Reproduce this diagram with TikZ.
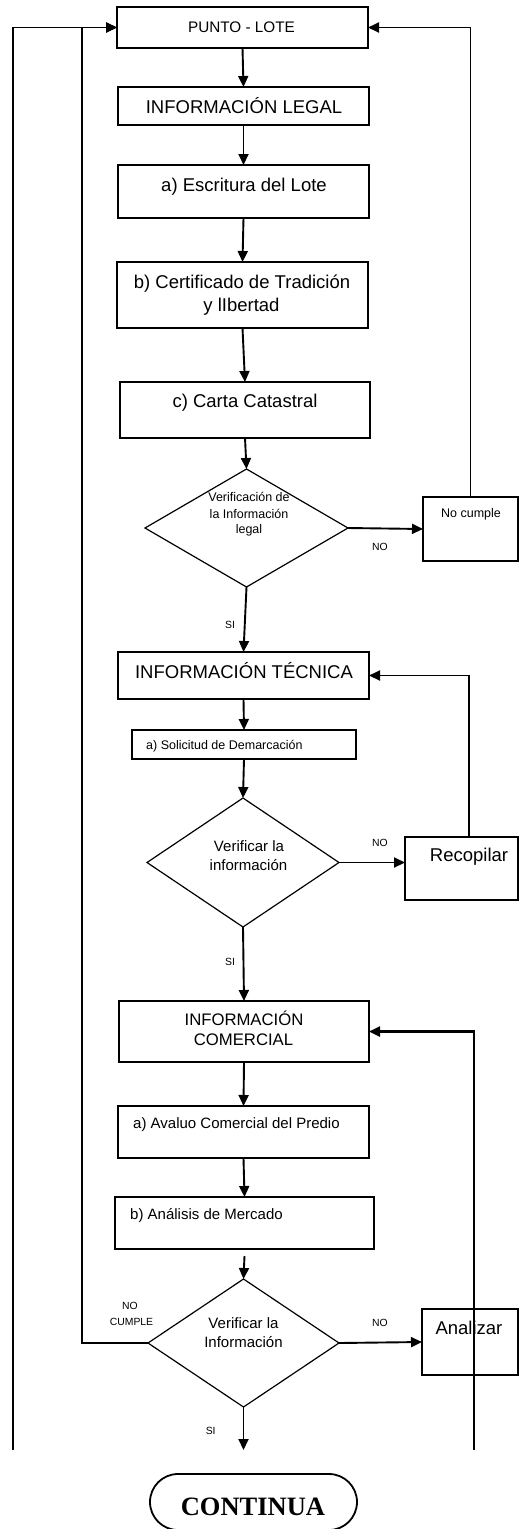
\documentclass[tikz,border=0pt]{standalone}
\usepackage{fontspec}
\setmainfont{Liberation Sans}
\newfontfamily\serifb{Liberation Serif}
\usetikzlibrary{arrows.meta,shapes.geometric,calc}
\tikzset{
  box/.style={draw, rectangle, line width=1.3pt, inner sep=0pt, outer sep=0pt},
  dia/.style={draw, diamond, line width=1.2pt, inner sep=0pt, outer sep=0pt},
  conn/.style={line width=1.9pt, -{Triangle[length=11pt,width=10pt]}},
  tx/.style={inner sep=0pt, anchor=base},
  tbig/.style={tx, font=\fontsize{18.5}{22}\selectfont},
  tcom/.style={tx, font=\fontsize{16.7}{20}\selectfont},
  tmid/.style={tx, font=\fontsize{15}{18}\selectfont},
  tpun/.style={tx, font=\fontsize{15.3}{18}\selectfont},
  tsm/.style={tx, font=\fontsize{12.5}{15}\selectfont},
  tlab/.style={tx, font=\fontsize{10.4}{12}\selectfont},
}
\begin{document}
\begin{tikzpicture}[x=1pt,y=-1pt]
\useasboundingbox (0,0) rectangle (519,1529);
% boxes
\node[box, minimum width=251pt, minimum height=41pt] (punto) at (242.5,27.5) {};
\node[box, minimum width=251pt, minimum height=38pt] (legal) at (243.5,106) {};
\node[box, minimum width=251pt, minimum height=53pt] (escr) at (243.5,191.5) {};
\node[box, minimum width=251pt, minimum height=66pt] (cert) at (242.5,295) {};
\node[box, minimum width=250pt, minimum height=56pt] (carta) at (245,410) {};
\node[dia, minimum width=203pt, minimum height=118pt] (dia1) at (246.5,528) {};
\node[box, minimum width=95pt, minimum height=64pt] (nocum) at (470.5,529) {};
\node[box, minimum width=251pt, minimum height=47pt] (tecn) at (243.5,675.5) {};
\node[box, minimum width=224pt, minimum height=29pt] (solic) at (244,744.5) {};
\node[dia, minimum width=192pt, minimum height=129pt] (dia2) at (243,862.5) {};
\node[box, minimum width=113pt, minimum height=63pt] (recop) at (461.5,868.5) {};
\node[box, minimum width=250pt, minimum height=61pt] (comer) at (244,1031.5) {};
\node[box, minimum width=251pt, minimum height=52pt] (aval) at (243.5,1132) {};
\node[box, minimum width=259pt, minimum height=52pt] (anal) at (244.5,1223) {};
\node[dia, minimum width=191pt, minimum height=128pt] (dia3) at (243.5,1343) {};
\node[box, minimum width=96pt, minimum height=66pt] (anz) at (470,1342) {};
\node[draw, rectangle, rounded corners=28pt, line width=1.8pt, inner sep=0pt, outer sep=0pt,
      minimum width=207pt, minimum height=56pt] (cont) at (253.5,1502) {};
% texts
\node[tpun] (tpunto) at (241.5,32.3) {PUNTO - LOTE};
\node[tbig] (tlegal) at (244,113.3) {INFORMACIÓN LEGAL};
\node[tbig] (tescr) at (244,191) {a) Escritura del Lote};
\node[tbig] (tcert1) at (242,288.3) {b) Certificado de Tradición};
\node[tbig] (tcert2) at (241.5,311) {y lIbertad};
\node[tbig] (tcarta) at (245,407.3) {c) Carta Catastral};
\node[tsm] (td1a) at (249,501) {Verificación de};
\node[tsm] (td1b) at (249,518) {la Información};
\node[tsm] (td1c) at (249,533) {legal};
\node[tlab] (tno1) at (380,550) {NO};
\node[tsm] (tnoc) at (471,517.3) {No cumple};
\node[tlab] (tsi1) at (230,628.3) {SI};
\node[tbig] (ttec) at (244,678.3) {INFORMACIÓN TÉCNICA};
\node[tsm, anchor=base west] (tsol) at (146,749) {a) Solicitud de Demarcación};
\node[tmid] (td2a) at (249,851) {Verificar la};
\node[tmid] (td2b) at (248.5,870) {información};
\node[tlab] (tno2) at (380,846.7) {NO};
\node[tbig] (trec) at (469,861) {Recopilar};
\node[tlab] (tsi2) at (230,965.3) {SI};
\node[tcom] (tcom1) at (244,1025.3) {INFORMACIÓN};
\node[tcom] (tcom2) at (243.5,1045.7) {COMERCIAL};
\node[tmid, anchor=base west] (taval) at (133,1128.3) {a) Avaluo Comercial del Predio};
\node[tmid, anchor=base west] (tanal) at (130,1219.3) {b) Análisis de Mercado};
\node[tmid] (td3a) at (243.5,1328.3) {Verificar la};
\node[tmid] (td3b) at (243.5,1347.3) {Información};
\node[tlab] (tnc1) at (130,1309) {NO};
\node[tlab] (tnc2) at (131.5,1325) {CUMPLE};
\node[tlab] (tno3) at (380,1326.7) {NO};
\node[tbig] (tanz) at (469,1334.3) {Analizar};
\node[tlab] (tsi3) at (210.7,1434) {SI};
\node[tx, font=\serifb\bfseries\fontsize{26.5}{30}\selectfont] (tcont) at (253,1515) {CONTINUA};
% free ends
\coordinate (lb) at (13,1450);
\coordinate (rb) at (474,1450);
\coordinate (sib) at (243.5,1450);
% connectors
\draw[conn] (punto.south) -- (legal.north);
\draw[conn] (legal.south) -- (escr.north);
\draw[conn] (escr.south) -- (cert.north);
\draw[conn] (cert.south) -- (carta.north);
\draw[conn] (carta.south) -- (dia1.north);
\draw[conn] (dia1.east) -- (nocum.west);
\draw[conn] (nocum.north) |- (punto.east);
\draw[conn] (dia1.south) -- (tecn.north);
\draw[conn] (tecn.south) -- (solic.north);
\draw[conn] (solic.south) -- (dia2.north);
\draw[conn] (dia2.east) -- (dia2.east -| recop.west);
\draw[conn] ([xshift=7.5pt]recop.north) |- (tecn.east);
\draw[conn] (dia2.south) -- (comer.north);
\draw[conn] (comer.south) -- (aval.north);
\draw[conn] (aval.south) -- (anal.north);
\draw[conn] ([yshift=-7pt]anal.south) -- (dia3.north);
\draw[conn] (dia3.east) -- (anz.west);
\draw[conn] (dia3.west) -| ([xshift=-35pt]punto.west) -- (punto.west);
\draw[conn] (lb) |- (punto.west);
\draw[conn, line width=2.4pt] (rb) |- (comer.east);
\draw[conn] (dia3.south) -- (sib);
\end{tikzpicture}
\end{document}
